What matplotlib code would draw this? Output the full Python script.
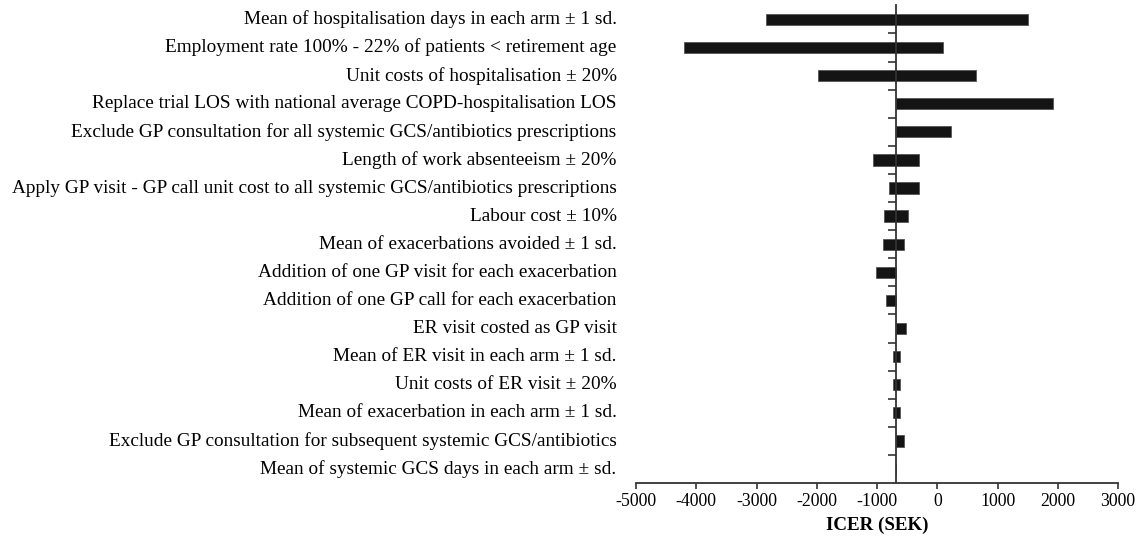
import matplotlib.pyplot as plt

plt.rcParams["font.family"] = ["Liberation Serif", "DejaVu Serif"]

# base-case ICER (SEK) and the low / high ends of each sensitivity bar
BASE = -690
labels = [
    "Mean of hospitalisation days in each arm \u00b1 1 sd.",
    "Employment rate 100% - 22% of patients < retirement age",
    "Unit costs of hospitalisation \u00b1 20%",
    "Replace trial LOS with national average COPD-hospitalisation LOS",
    "Exclude GP consultation for all systemic GCS/antibiotics prescriptions",
    "Length of work absenteeism \u00b1 20%",
    "Apply GP visit - GP call unit cost to all systemic GCS/antibiotics prescriptions",
    "Labour cost \u00b1 10%",
    "Mean of exacerbations avoided \u00b1 1 sd.",
    "Addition of one GP visit for each exacerbation",
    "Addition of one GP call for each exacerbation",
    "ER visit costed as GP visit",
    "Mean of ER visit in each arm \u00b1 1 sd.",
    "Unit costs of ER visit \u00b1 20%",
    "Mean of exacerbation in each arm \u00b1 1 sd.",
    "Exclude GP consultation for subsequent systemic GCS/antibiotics",
    "Mean of systemic GCS days in each arm \u00b1 sd.",
]
low = [-2850, -4210, -1975, -690, -690, -1065, -805, -880, -895,
       -1025, -850, -690, -735, -740, -740, -690, -690]
high = [1505, 95, 640, 1920, 235, -300, -300, -490, -555,
        -690, -690, -520, -620, -620, -620, -550, -690]

fig = plt.figure(figsize=(11.45, 5.37), dpi=100)
ax = fig.add_axes([0.5555, 0.1005, 0.421, 0.8895])

ys = list(range(len(labels)))
widths = [h - l for l, h in zip(low, high)]
ax.barh(ys, widths, left=low, height=0.4, color="#141414",
        edgecolor="#555555", linewidth=0.6, zorder=3)

ax.set_xlim(-5000, 3000)
ax.set_ylim(len(labels) - 0.5, -0.5)

for s in ["top", "right"]:
    ax.spines[s].set_visible(False)
ax.spines["left"].set_position(("data", BASE))
for s in ["left", "bottom"]:
    ax.spines[s].set_linewidth(1.3)
    ax.spines[s].set_color("#333333")
    ax.spines[s].set_zorder(4)

ax.set_yticks([i + 0.5 for i in range(len(labels) - 1)])
ax.set_yticklabels([])
ax.tick_params(axis="y", direction="out", length=6, width=1.2, color="#333333")

ax.set_xticks(range(-5000, 3001, 1000))
ax.set_xticklabels([str(v) for v in range(-5000, 3001, 1000)])
ax.tick_params(axis="x", direction="out", length=4, width=1.2,
               color="#333333", labelsize=12.8, pad=3)

for y, lab in zip(ys, labels):
    ax.annotate(lab, xy=(0, y), xycoords=("axes fraction", "data"),
                xytext=(-14, 0), textcoords="offset points",
                ha="right", va="center", fontsize=13.9)

ax.set_xlabel("ICER (SEK)", fontsize=13.7, fontweight="bold", labelpad=5)

fig.savefig("out.png", dpi=100)
